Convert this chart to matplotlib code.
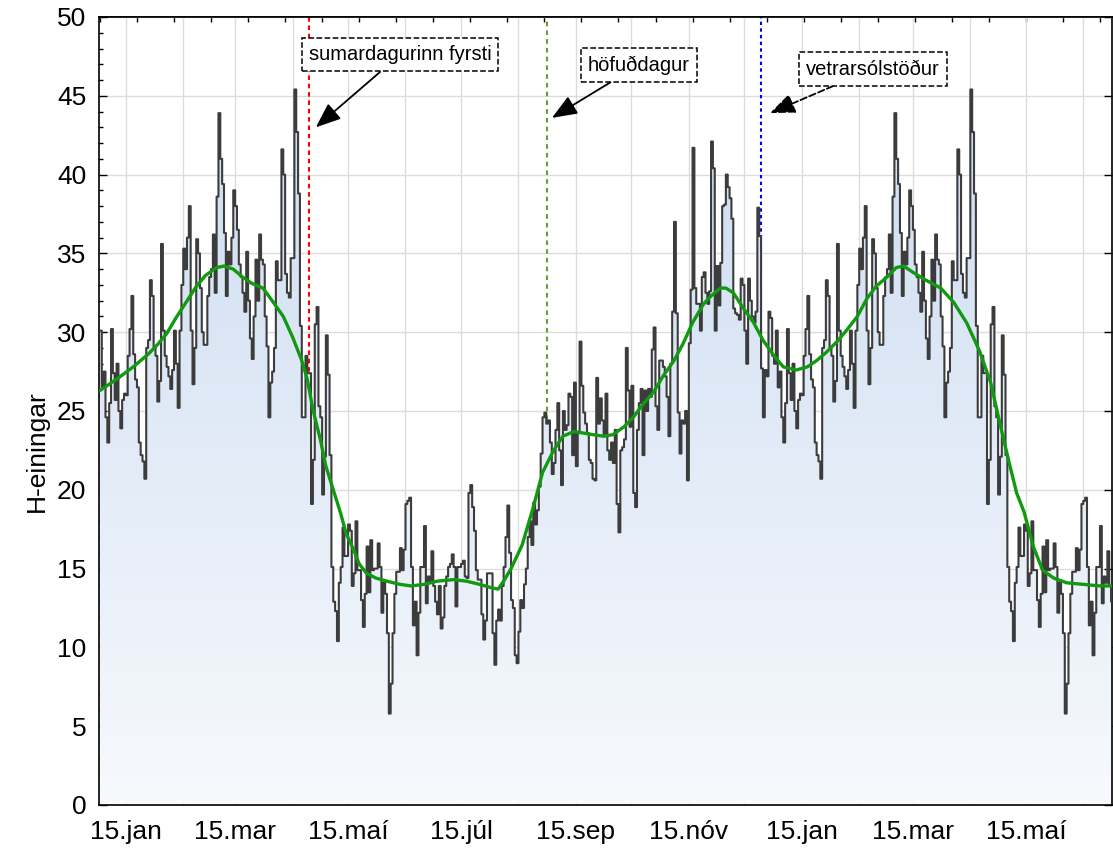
import numpy as np
import pandas as pd
import matplotlib
matplotlib.use('Agg')
import matplotlib.pyplot as plt
from matplotlib.colors import LinearSegmentedColormap

plt.rcParams['font.family'] = ['Liberation Sans', 'DejaVu Sans']

# daily values for one year (1. jan - 31. des), the series repeats the next year
daily = [
    30.1, 26.5, 27.5, 24.6, 23.0, 25.5, 30.2, 27.4, 25.7, 28.0,
    25.0, 23.9, 25.7, 26.1, 26.0, 28.5, 30.2, 32.3, 28.6, 27.0,
    26.5, 23.0, 22.2, 21.8, 20.7, 29.0, 29.5, 33.3, 32.3, 29.0,
    28.5, 25.6, 26.9, 35.6, 30.1, 28.5, 27.8, 27.2, 26.4, 27.6,
    30.1, 28.0, 25.2, 30.1, 33.0, 35.3, 34.0, 36.0, 38.0, 30.1,
    26.7, 29.0, 35.9, 35.0, 32.8, 30.0, 29.2, 29.2, 32.3, 33.5,
    34.0, 36.2, 32.5, 38.6, 43.9, 41.0, 39.4, 36.3, 32.3, 35.1,
    34.3, 36.0, 39.0, 38.0, 36.5, 34.3, 33.5, 32.5, 31.3, 35.1,
    32.0, 29.6, 28.3, 31.0, 34.6, 32.0, 36.2, 34.6, 34.3, 31.0,
    29.1, 24.6, 26.8, 27.5, 29.0, 34.5, 33.3, 33.3, 41.6, 40.0,
    33.7, 32.5, 32.2, 34.7, 34.7, 45.4, 42.7, 38.8, 30.4, 24.6,
    24.6, 28.5, 27.4, 27.4, 19.1, 21.9, 30.5, 31.6, 25.3, 24.6,
    19.7, 22.1, 29.8, 27.3, 22.2, 15.1, 12.9, 12.3, 10.4, 14.1,
    15.1, 17.6, 15.8, 15.8, 17.8, 17.4, 13.9, 14.7, 18.0, 14.9,
    14.9, 13.0, 11.3, 13.4, 16.4, 13.5, 16.8, 14.9, 15.0, 15.0,
    16.6, 15.1, 12.2, 14.1, 13.4, 10.9, 5.8, 7.7, 10.9, 13.4,
    14.8, 14.8, 16.3, 14.9, 16.2, 19.1, 19.3, 19.5, 15.1, 11.4,
    12.9, 9.5, 12.2, 15.1, 15.1, 17.7, 12.8, 14.5, 14.1, 16.1,
    13.9, 12.9, 12.1, 13.9, 11.2, 11.9, 13.9, 14.5, 15.1, 15.3,
    15.9, 15.1, 12.6, 15.1, 15.1, 15.3, 15.5, 14.5, 14.4, 19.8,
    20.3, 18.9, 17.4, 14.9, 14.3, 14.3, 12.1, 10.5, 11.7, 14.7,
    14.7, 14.7, 10.9, 8.9, 11.7, 12.4, 11.7, 13.9, 15.1,
    17.0, 19.0, 16.0, 13.0, 12.5, 9.5, 9.0, 11.0, 13.0, 12.5,
    14.0, 15.0, 17.0, 18.0, 16.5,
    19.2, 17.8, 18.7, 20.2, 22.3, 24.6, 24.9, 24.2, 24.4, 23.0,
    21.0, 21.7, 23.8, 25.5, 22.5, 20.3, 25.0, 23.8, 24.1, 26.1,
    25.9, 22.2, 26.8, 21.5, 23.6, 29.4, 26.6, 24.9, 24.2, 23.6,
    21.9, 21.7, 20.7, 20.6, 27.1, 24.2, 25.8, 24.4, 23.4, 26.1,
    22.5, 21.9, 23.0, 21.7, 23.8, 19.1, 17.3, 22.5, 22.7, 23.2,
    29.0, 26.3, 24.0, 26.6, 19.8, 18.9, 23.8, 25.5, 26.4, 22.2,
    26.3, 25.0, 26.4, 25.9, 28.9, 30.3, 25.3, 23.8, 28.2, 28.2,
    27.8, 27.2, 25.9, 23.4, 28.0, 31.3, 37.0, 31.2, 24.9, 22.3,
    24.4, 24.2, 25.0, 20.6, 29.3, 32.7, 41.7, 32.8, 31.8, 31.8,
    30.1,
    33.5, 33.8, 32.5, 31.8, 32.6, 42.1, 40.4, 30.1, 34.2, 31.7,
    34.4, 38.0, 38.1, 40.0, 39.2, 38.5, 37.2, 31.5, 31.2, 31.1,
    30.8, 33.4, 33.0, 30.1, 28.0, 33.4, 32.0, 31.0, 30.6, 31.3,
    37.9, 36.1, 27.7, 24.6, 27.6, 27.2, 31.3, 30.9, 28.5, 28.0,
]
n_days = 547

smooth_day = [0, 10, 18, 26, 31, 36, 41, 46, 52, 57, 63, 67, 72, 77, 82, 88, 93, 99,
              104, 109, 112, 115, 119, 122, 126, 130, 133, 137, 140, 144, 149, 155,
              162, 168, 175, 182, 191, 198, 205, 211, 215, 218, 222, 228, 234, 239,
              245, 250, 256, 261, 266, 272, 277, 283, 288, 293, 299, 304, 310, 315,
              320, 326, 330, 335, 338, 342, 347, 353, 358, 364, 369, 376, 382, 387,
              392, 398, 403, 409, 414, 419, 425, 430, 434, 439, 446, 454, 461, 468,
              475, 481, 486, 491, 495, 499, 504, 509, 515, 522, 531, 540, 547]
smooth_val = [26.3, 27.1, 27.8, 28.6, 29.2, 29.9, 30.9, 31.8, 32.9, 33.6, 34.1, 34.2,
              34.0, 33.5, 33.1, 32.8, 32.0, 31.0, 29.7, 28.2, 27.0, 25.1, 23.2, 21.5,
              20.0, 18.5, 17.2, 16.2, 15.3, 14.7, 14.4, 14.2, 14.0, 13.9, 14.0, 14.2,
              14.3, 14.2, 14.0, 13.8, 13.7, 14.2, 15.0, 16.5, 18.9, 21.1, 22.5, 23.4,
              23.7, 23.6, 23.5, 23.4, 23.5, 24.0, 24.6, 25.4, 26.2, 27.2, 28.2, 29.3,
              30.6, 31.8, 32.3, 32.8, 32.8, 32.5, 31.6, 30.6, 29.5, 28.5, 27.8, 27.6,
              27.8, 28.2, 28.7, 29.4, 30.1, 31.0, 32.1, 32.9, 33.5, 34.1, 34.2, 33.8,
              33.3, 32.8, 31.9, 30.6, 28.8, 26.8, 24.2, 21.7, 19.8, 18.6, 16.4, 14.9,
              14.4, 14.1, 14.0, 13.9, 13.9]

months = ['jan', 'feb', 'mar', 'apr', 'maí', 'jún', 'júl', 'ágú', 'sep', 'okt', 'nóv', 'des']
dates = pd.date_range('2011-01-01', periods=n_days)

# merkidagar: day, colour, line style, label, arrow tip, box centre, arrow line style
events = [
    (112.9, 'red', (0, (2.2, 1.8)), 'sumardagurinn fyrsti', (116.6, 43.0), (162.0, 47.6), '-'),
    (241.4, '#6f9a35', (0, (2.2, 2.0)), 'höfuðdagur', (244.1, 43.6), (291.0, 46.95), '-'),
    (356.8, 'blue', (0, (1.6, 1.6)), 'vetrarsólstöður', (361.8, 43.9), (417.4, 46.7), '--'),
]

vals = np.array(daily + daily[:n_days - 365])
xs = np.arange(n_days + 1)
ys = np.append(vals, vals[-1])

fig = plt.figure(figsize=(11.13, 8.57), dpi=100)
ax = fig.add_axes([99 / 1113, 52 / 857, 1013 / 1113, 788 / 857])
ax.set_xlim(-0.5, 546.5)
ax.set_ylim(0, 50)

# gradient fill under the step curve
poly = ax.fill_between(xs, ys, 0, step='post', facecolor='none', lw=0)
grad = np.linspace(1, 0, 256).reshape(-1, 1)
cmap = LinearSegmentedColormap.from_list('fill', ['#f7f9fd', '#c9daf0'])
im = ax.imshow(grad, aspect='auto', cmap=cmap, extent=[-0.5, 546.5, 0, 50],
               origin='upper', zorder=2)
im.set_clip_path(poly.get_paths()[0], transform=ax.transData)

ax.step(xs, ys, where='post', color='#3c3c3c', lw=1.5, zorder=4)
ax.plot(smooth_day, smooth_val, color='#0f9a0f', lw=2.4, zorder=5)

for day, col, ls, label, tip, box, als in events:
    ax.axvline(day, color=col, ls=ls, lw=1.5, zorder=1.5)
    ax.annotate(label, xy=tip, xytext=box, ha='center', va='center', fontsize=14.5,
                zorder=6,
                bbox=dict(boxstyle='square,pad=0.35', fc='white', ec='black', ls='--', lw=1.1),
                arrowprops=dict(arrowstyle='-|>,head_length=0.7,head_width=0.28',
                                color='black', lw=1.3, ls=als, mutation_scale=22,
                                shrinkA=0, shrinkB=0))

# ticks
tick_pos = np.where(dates.day == 15)[0]
tick_lab = ['15.' + months[m - 1] if m % 2 == 1 else '' for m in dates.month[tick_pos]]
ax.set_xticks(tick_pos)
ax.set_xticklabels(tick_lab)
ax.set_yticks(np.arange(0, 51, 5))
ax.set_yticks(np.arange(0, 51, 1), minor=True)
ax.tick_params(axis='both', which='major', direction='in', labelsize=19)
ax.tick_params(axis='x', which='major', length=4, width=1, top=False, pad=11)
ax.tick_params(axis='y', which='major', length=6, width=1, right=True, pad=9)
ax.tick_params(axis='y', which='minor', direction='in', length=3, width=1, right=False)
ax.tick_params(axis='x', which='minor', bottom=False, top=False)

top = ax.secondary_xaxis('top')
top.set_xticks(np.arange(0, n_days, 20))
top.set_xticklabels([])
top.tick_params(direction='in', length=3.5, width=1)

ax.grid(True, which='major', color='#dcdcdc', lw=1)
ax.set_axisbelow(True)
for s in ax.spines.values():
    s.set_linewidth(1.2)
top.spines['top'].set_linewidth(1.2)

ax.set_ylabel('H-einingar', fontsize=19)
ax.yaxis.set_label_coords(-0.049, 0.449)

fig.savefig('out.png', dpi=100)
